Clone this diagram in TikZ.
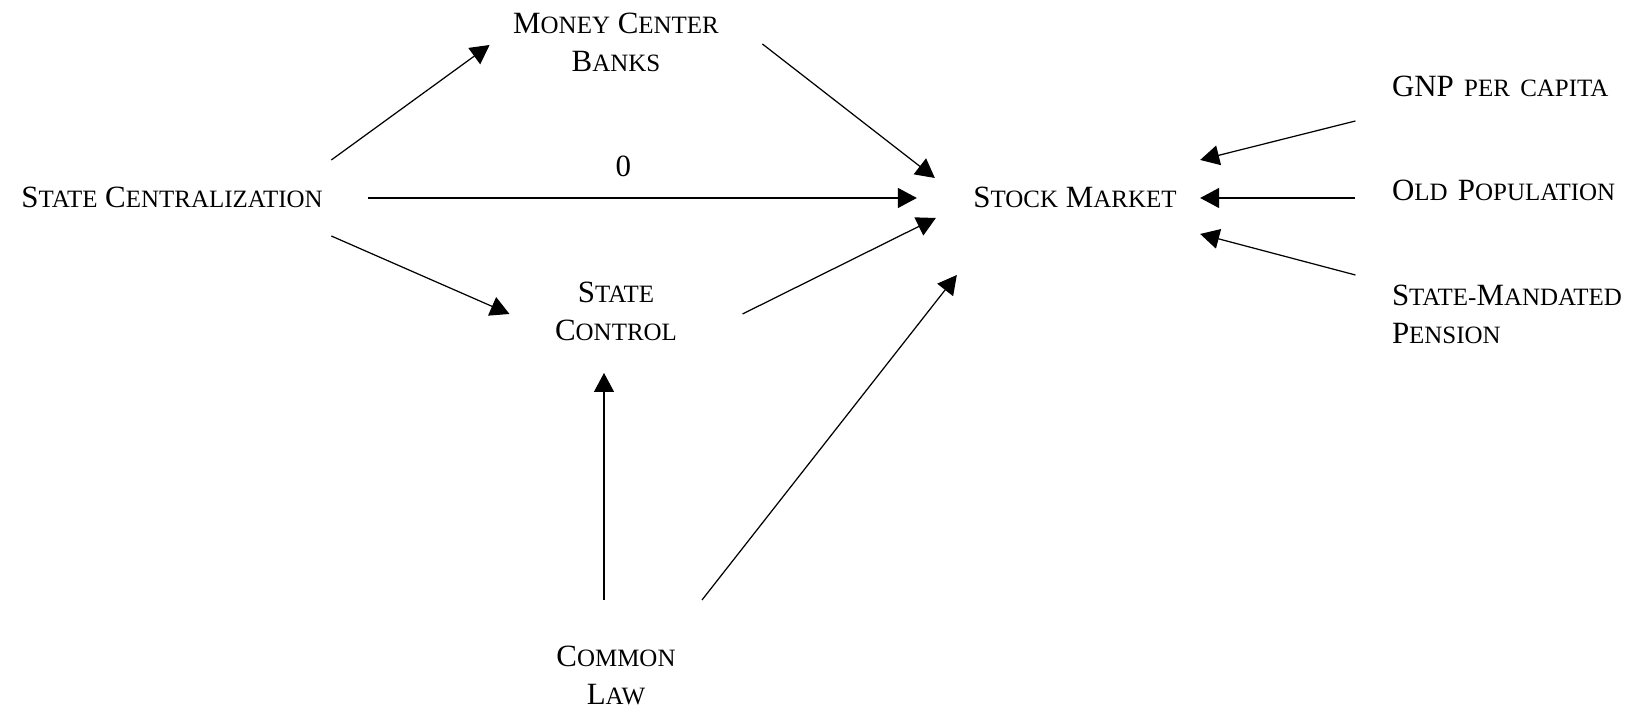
\documentclass[tikz,border=0pt]{standalone}
\usepackage{fontspec}
\setmainfont{Liberation Serif}
\usetikzlibrary{positioning,arrows.meta}
\newcommand{\smc}[1]{{\fontsize{7.1}{10.8}\selectfont #1}}

\begin{document}
\begin{tikzpicture}[on grid,>={Triangle[length=1.9mm,width=2mm]},line width=0.35pt,
    every node/.style={inner sep=0pt,font=\fontsize{8.8}{10.8}\selectfont,align=center},
    side/.style={text width=2.5cm,align=left}]
    \useasboundingbox (0,0) rectangle (16.43,7.11);
    \node (sc) at (1.72,5.14) {S\smc{TATE} C\smc{ENTRALIZATION}};
    \node (sm) [right=9.03cm of sc] {S\smc{TOCK} M\smc{ARKET}};
    \node (mcb) [above right=1.55cm and 4.44cm of sc] {M\smc{ONEY} C\smc{ENTER}\\B\smc{ANKS}};
    \node (ctrl) [below right=1.14cm and 4.44cm of sc] {S\smc{TATE}\\C\smc{ONTROL}};
    \node (law) [below=3.64cm of ctrl] {C\smc{OMMON}\\L\smc{AW}};
    \node[side] (gnp) [above right=1.11cm and 4.42cm of sm] {GNP \smc{PER CAPITA}};
    \node[side] (old) [above right=0.07cm and 4.42cm of sm] {O\smc{LD} P\smc{OPULATION}};
    \node[side] (pen) [below right=1.17cm and 4.42cm of sm] {S\smc{TATE-}M\smc{ANDATED}\\P\smc{ENSION}};

    \path[->]
        ([shift={(0.08,0.37)}]sc.east)
            edge ([shift={(-0.23,-0.03)}]mcb.west)
        ([shift={(0.45,-0.01)}]sc.east)
            edge node[above=0.21cm,pos=0.465] {0} ([shift={(-0.56,-0.01)}]sm.west)
        ([shift={(0.08,-0.39)}]sc.east)
            edge ([shift={(-0.45,-0.03)}]ctrl.west)
        ([shift={(0.43,-0.02)}]mcb.east)
            edge ([shift={(-0.38,0.19)}]sm.west)
        ([shift={(0.65,-0.03)}]ctrl.east)
            edge ([shift={(-0.37,-0.21)}]sm.west)
        ([shift={(-0.12,0.45)}]law.north)
            edge ([shift={(-0.12,-0.32)}]ctrl.south)
        ([shift={(0.86,0.45)}]law.north)
            edge ([shift={(-0.16,-0.78)}]sm.west)
        ([shift={(-0.36,-0.35)}]gnp.west)
            edge ([shift={(0.23,0.37)}]sm.east)
        ([shift={(-0.36,-0.08)}]old.west)
            edge ([shift={(0.23,-0.01)}]sm.east)
        ([shift={(-0.36,0.39)}]pen.west)
            edge ([shift={(0.23,-0.37)}]sm.east);
\end{tikzpicture}
\end{document}
